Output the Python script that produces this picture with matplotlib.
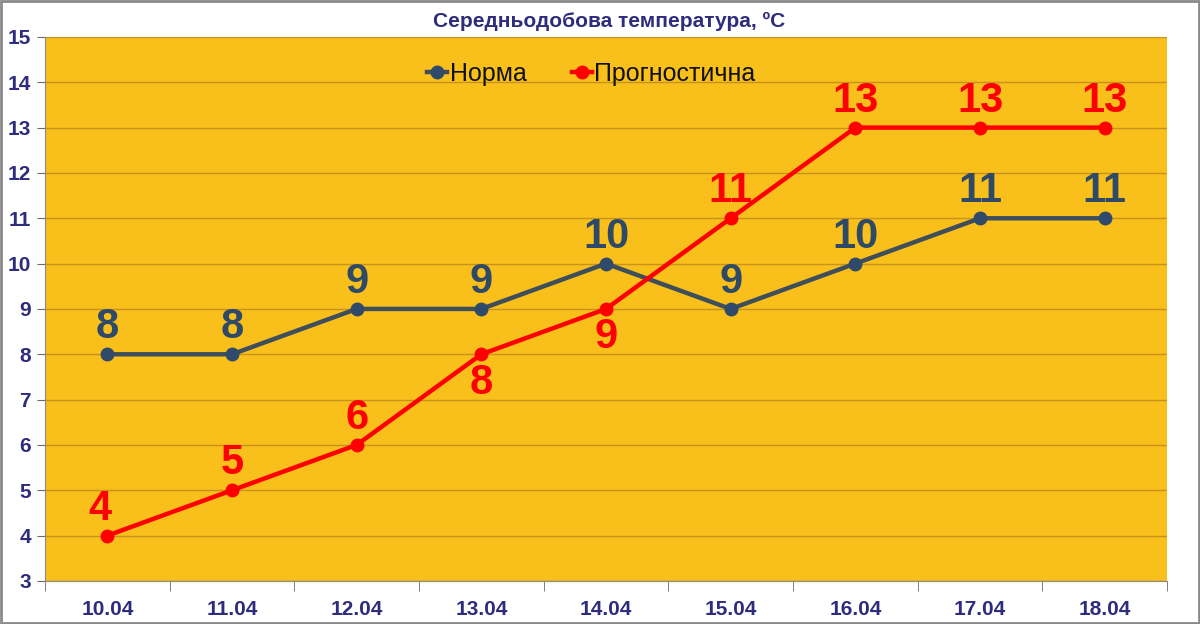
import numpy as np
import matplotlib.pyplot as plt

plt.rcParams['font.family'] = ['Liberation Sans', 'DejaVu Sans']

dates = ["10.04", "11.04", "12.04", "13.04", "14.04", "15.04", "16.04", "17.04", "18.04"]
norma = [8, 8, 9, 9, 10, 9, 10, 11, 11]
prognoz = [4, 5, 6, 8, 9, 11, 13, 13, 13]
# where red labels sit: 1 above, -1 below
prognoz_side = [1, 1, 1, -1, -1, 1, 1, 1, 1]

navy = "#2E2C7C"
grey_line = "#3E4E5A"
grey_mark = "#2F4A6A"
red = "#FF0000"

fig = plt.figure(figsize=(12, 6.24), dpi=100)
fig.patch.set_facecolor("white")
fig.patches.append(plt.Rectangle((0.001, 0.002), 0.998, 0.996, transform=fig.transFigure,
                                 fill=False, edgecolor="#8A8A8A", linewidth=2))
ax = fig.add_axes([0.0375, 0.069, 0.935, 0.8718])
ax.set_facecolor("#F9BF1B")

x = np.arange(len(dates))
ax.plot(x, norma, color=grey_line, lw=3.2, marker="o", ms=9,
        mfc=grey_mark, mec=grey_mark, label="Норма", zorder=3)
ax.plot(x, prognoz, color=red, lw=3.2, marker="o", ms=9,
        mfc=red, mec=red, label="Прогностична", zorder=4)

for i, v in enumerate(norma):
    ax.annotate(str(v), (x[i], v), xytext=(0, 5), textcoords="offset points",
                ha="center", va="bottom", fontsize=30, fontweight="bold", color="#2F4A66")
for i, v in enumerate(prognoz):
    if prognoz_side[i] > 0:
        ax.annotate(str(v), (x[i], v), xytext=(-5 if i == 0 else 0, 5), textcoords="offset points",
                    ha="center", va="bottom", fontsize=30, fontweight="bold", color=red)
    else:
        ax.annotate(str(v), (x[i], v), xytext=(0, -6), textcoords="offset points",
                    ha="center", va="top", fontsize=30, fontweight="bold", color=red)

ax.set_xlim(-0.5, len(dates) - 0.5)
ax.set_ylim(3, 15)
ax.set_yticks(range(3, 16))
ax.set_xticks(x)
ax.set_xticklabels(dates)
ax.set_xticks(np.arange(-0.5, len(dates)), minor=True)
ax.tick_params(axis="x", which="major", length=0, pad=14, labelsize=15, labelcolor=navy)
ax.tick_params(axis="x", which="minor", length=7, color="#6A6A6A", direction="out")
ax.tick_params(axis="y", length=6, color="#6A6A6A", labelsize=15, labelcolor=navy, pad=4)
for lab in ax.get_xticklabels() + ax.get_yticklabels():
    lab.set_fontweight("bold")

ax.grid(axis="y", color="#C8921E", lw=1)
ax.set_axisbelow(True)
ax.spines["top"].set_visible(False)
ax.spines["right"].set_visible(False)
ax.spines["left"].set_color("#8A8A8A")
ax.spines["bottom"].set_color("#8A8A8A")

fig.text(0.508, 0.965, "Середньодобова температура, ºC", ha="center", va="center",
         fontsize=15, fontweight="bold", color=navy)

leg = ax.legend(loc="upper center", bbox_to_anchor=(0.487, 0.995), ncol=2, frameon=False,
                fontsize=18, handlelength=0.8, handletextpad=0.1, columnspacing=1.8)
for t in leg.get_texts():
    t.set_color("#111111")

fig.savefig("out.png", dpi=100)
